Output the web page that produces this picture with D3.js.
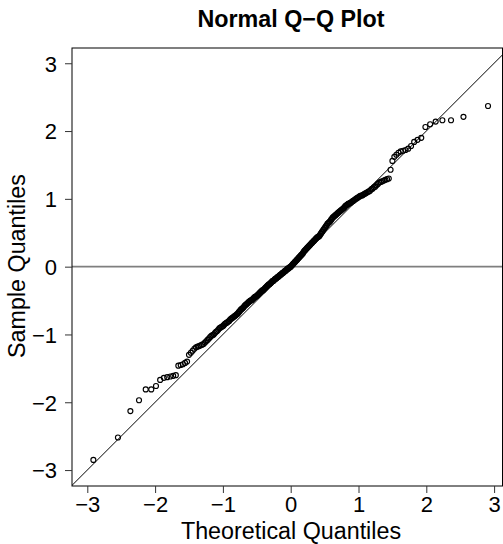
<!DOCTYPE html>
<html>
<head>
<meta charset="utf-8">
<script src="https://cdn.jsdelivr.net/npm/d3@7"></script>
<style>
  body { margin: 0; background: #fff; }
  text { font-family: "Liberation Sans", Arial, Helvetica, sans-serif; fill: #000; }
</style>
</head>
<body>
<div id="plot"></div>
<script>
// sorted sample values
var sampleQuantiles = [
  -2.85, -2.52, -2.13, -1.97, -1.81, -1.81, -1.76, -1.67, -1.64, -1.63,
  -1.62, -1.61, -1.60, -1.46, -1.45, -1.44, -1.42, -1.40, -1.30,
  -1.27, -1.24, -1.21, -1.19, -1.18, -1.17, -1.16, -1.15, -1.14, -1.12,
  -1.10, -1.08, -1.06, -1.04, -1.02, -1.01, -1.00, -0.98, -0.96, -0.95,
  -0.93, -0.91, -0.90,
  -0.89, -0.88, -0.87, -0.85, -0.84, -0.83, -0.82, -0.81, -0.80, -0.78,
  -0.77, -0.76, -0.75, -0.74, -0.73, -0.72, -0.71, -0.70, -0.69, -0.67, -0.66,
  -0.64, -0.63, -0.62, -0.61, -0.60, -0.58, -0.57, -0.56, -0.55, -0.54,
  -0.53, -0.52, -0.51, -0.50, -0.50, -0.49,
  -0.48, -0.47, -0.46, -0.45, -0.44, -0.44, -0.43, -0.42, -0.41, -0.40,
  -0.39, -0.38, -0.37, -0.36, -0.35, -0.35, -0.34, -0.33, -0.32, -0.31, -0.30,
  -0.29, -0.28, -0.27, -0.26, -0.26, -0.25, -0.24, -0.23, -0.22, -0.21,
  -0.21, -0.20, -0.19, -0.18, -0.18, -0.17, -0.16, -0.15, -0.15, -0.14,
  -0.13, -0.12, -0.12, -0.11, -0.10, -0.09, -0.09, -0.08, -0.07, -0.06,
  -0.06, -0.05, -0.04, -0.03, -0.03, -0.02, -0.01, -0.01, 0.00,
  0.01, 0.02, 0.03, 0.04, 0.05, 0.06, 0.07, 0.08, 0.09, 0.10,
  0.11, 0.12, 0.13, 0.14, 0.15, 0.16, 0.17, 0.18, 0.19, 0.20, 0.22,
  0.23, 0.24, 0.25, 0.26, 0.27, 0.28, 0.29, 0.30, 0.31, 0.32,
  0.33, 0.34, 0.35, 0.36, 0.37, 0.38, 0.39, 0.40, 0.41, 0.42,
  0.43, 0.44, 0.44, 0.45, 0.46,
  0.48, 0.49, 0.51, 0.52, 0.54, 0.55, 0.57, 0.58, 0.60, 0.61,
  0.63, 0.64, 0.65, 0.66, 0.67, 0.69, 0.70, 0.72, 0.73,
  0.74, 0.75, 0.76, 0.77, 0.78, 0.79, 0.80, 0.81, 0.82, 0.83,
  0.84, 0.85, 0.86, 0.87, 0.89, 0.90,
  0.91, 0.92, 0.93, 0.93, 0.94, 0.95, 0.96, 0.97, 0.98, 0.99,
  1.00, 1.01, 1.02, 1.03, 1.04, 1.05, 1.05, 1.06, 1.07, 1.08, 1.09,
  1.10, 1.11, 1.12, 1.14, 1.15, 1.17, 1.18, 1.20, 1.22, 1.24,
  1.25, 1.26, 1.27, 1.28, 1.29, 1.30, 1.43, 1.56, 1.62, 1.65,
  1.68, 1.70, 1.71, 1.72, 1.74, 1.78, 1.84, 1.87, 1.90, 2.06,
  2.10, 2.14, 2.16, 2.16, 2.21, 2.37
];

var xTicks = [-3, -2, -1, 0, 1, 2, 3];
var yTicks = [-3, -2, -1, 0, 1, 2, 3];

var width = 503;
var height = 544;
var plot = { left: 72, right: 502.5, top: 48, bottom: 486 };

// inverse normal cdf (Acklam), used like R's qnorm(ppoints(n))
function qnorm(p) {
  var a = [-3.969683028665376e+01, 2.209460984245205e+02, -2.759285104469687e+02,
           1.383577518672690e+02, -3.066479806614716e+01, 2.506628277459239e+00];
  var b = [-5.447609879822406e+01, 1.615858368580409e+02, -1.556989798598866e+02,
           6.680131188771972e+01, -1.328068155288572e+01];
  var c = [-7.784894002430293e-03, -3.223964580411365e-01, -2.400758277161838e+00,
           -2.549732539343734e+00, 4.374664141464968e+00, 2.938163982698783e+00];
  var d = [7.784695709041462e-03, 3.224671290700398e-01, 2.445134137142996e+00,
           3.754408661907416e+00];
  var q, r;
  if (p < 0.02425) {
    q = Math.sqrt(-2 * Math.log(p));
    return (((((c[0]*q+c[1])*q+c[2])*q+c[3])*q+c[4])*q+c[5]) /
           ((((d[0]*q+d[1])*q+d[2])*q+d[3])*q+1);
  }
  if (p > 1 - 0.02425) {
    q = Math.sqrt(-2 * Math.log(1 - p));
    return -(((((c[0]*q+c[1])*q+c[2])*q+c[3])*q+c[4])*q+c[5]) /
            ((((d[0]*q+d[1])*q+d[2])*q+d[3])*q+1);
  }
  q = p - 0.5;
  r = q * q;
  return (((((a[0]*r+a[1])*r+a[2])*r+a[3])*r+a[4])*r+a[5])*q /
         (((((b[0]*r+b[1])*r+b[2])*r+b[3])*r+b[4])*r+1);
}

var n = sampleQuantiles.length;
var points = sampleQuantiles.map(function(s, i) {
  return { theo: qnorm((i + 0.5) / n), sample: s };
});

var svg = d3.select("#plot")
  .append("svg")
  .attr("width", width)
  .attr("height", height);

var xScale = d3.scaleLinear()
  .domain([-3.2257, 3.1239])
  .range([plot.left, plot.right]);

var yScale = d3.scaleLinear()
  .domain([-3.235, 3.225])
  .range([plot.bottom, plot.top]);

// horizontal reference line at 0
svg.append("line")
  .attr("x1", plot.left)
  .attr("x2", plot.right)
  .attr("y1", yScale(0))
  .attr("y2", yScale(0))
  .attr("stroke", "#7f7f7f")
  .attr("stroke-width", 1.6);

// y = x line, clipped to plot box
svg.append("clipPath").attr("id", "box")
  .append("rect")
  .attr("x", plot.left).attr("y", plot.top)
  .attr("width", plot.right - plot.left)
  .attr("height", plot.bottom - plot.top);

svg.append("line")
  .attr("clip-path", "url(#box)")
  .attr("x1", xScale(-4)).attr("y1", yScale(-4))
  .attr("x2", xScale(4)).attr("y2", yScale(4))
  .attr("stroke", "#000")
  .attr("stroke-width", 1);

// points
svg.append("g")
  .selectAll("circle")
  .data(points)
  .enter()
  .append("circle")
  .attr("cx", d => xScale(d.theo))
  .attr("cy", d => yScale(d.sample))
  .attr("r", 2.5)
  .attr("fill", "none")
  .attr("stroke", "#000")
  .attr("stroke-width", 1.15);

// box
svg.append("rect")
  .attr("x", plot.left).attr("y", plot.top)
  .attr("width", plot.right - plot.left)
  .attr("height", plot.bottom - plot.top)
  .attr("fill", "none")
  .attr("stroke", "#000")
  .attr("stroke-width", 1);

// axes
var fmt = d3.format("d");
var bottomAxis = d3.axisBottom(xScale).tickValues(xTicks).tickFormat(fmt).tickSize(7).tickPadding(3);
var leftAxis = d3.axisLeft(yScale).tickValues(yTicks).tickFormat(fmt).tickSize(7).tickPadding(8);

var xAxisG = svg.append("g")
  .attr("transform", `translate(0, ${plot.bottom})`)
  .call(bottomAxis);

var yAxisG = svg.append("g")
  .attr("transform", `translate(${plot.left}, 0)`)
  .call(leftAxis);

[xAxisG, yAxisG].forEach(function(g) {
  g.select(".domain").remove();
  g.selectAll(".tick line").attr("stroke", "#333");
  g.selectAll(".tick text")
    .style("font-size", "22px")
    .style("font-family", "'Liberation Sans', Arial, sans-serif")
    .attr("fill", "#000");
});
yAxisG.selectAll(".tick text").attr("dy", "0.36em");

// title
svg.append("text")
  .attr("x", 291)
  .attr("y", 27)
  .attr("text-anchor", "middle")
  .style("font-size", "23.3px")
  .style("font-weight", "bold")
  .text("Normal Q\u2212Q Plot");

// axis labels
svg.append("text")
  .attr("x", 291)
  .attr("y", 538.5)
  .attr("text-anchor", "middle")
  .style("font-size", "23.3px")
  .text("Theoretical Quantiles");

svg.append("text")
  .attr("transform", `translate(24.5, 266) rotate(-90)`)
  .attr("text-anchor", "middle")
  .style("font-size", "23.3px")
  .text("Sample Quantiles");
</script>
</body>
</html>
